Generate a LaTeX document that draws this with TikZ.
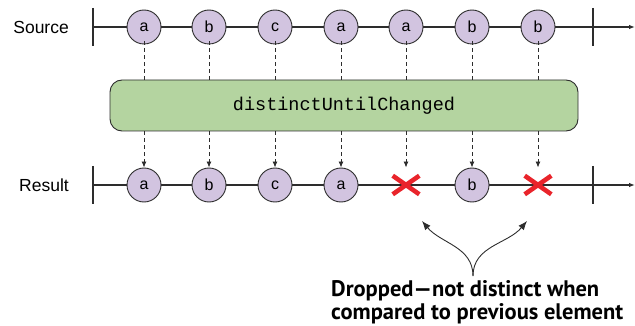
\documentclass[tikz,border=0pt]{standalone}
\usepackage{fontspec}
\setmainfont{Liberation Sans}
\newfontfamily\opfont{Liberation Mono}
\newfontfamily\notefont{PT Sans}
\usetikzlibrary{arrows.meta,positioning,calc,shapes.misc}
\definecolor{mrbfill}{RGB}{210,196,224}
\definecolor{opfill}{RGB}{180,212,160}
\definecolor{inkgray}{RGB}{45,45,45}
\definecolor{dropred}{RGB}{233,36,43}
\tikzset{
  mrb/.style={circle, draw=inkgray, fill=mrbfill, line width=0.9pt, minimum size=34pt, inner sep=0pt, font=\fontsize{16}{16}\selectfont},
  drp/.style={cross out, draw=dropred, line width=4.6pt, minimum width=22pt, minimum height=14pt, inner sep=0pt},
  opbox/.style={draw=inkgray, fill=opfill, line width=0.9pt, rounded corners=12pt, minimum width=468pt, minimum height=51pt, font=\opfont\fontsize{18.5}{18.5}\selectfont},
  tlab/.style={anchor=east, inner sep=0pt, font=\fontsize{17.5}{17.5}\selectfont},
  tline/.style={inkgray, line width=1.1pt, -{Latex[length=6pt,width=4.5pt]}},
  tick/.style={inkgray, line width=1.1pt},
  flow/.style={inkgray, line width=0.9pt, dash pattern=on 4pt off 3pt},
  flowar/.style={flow, -{Latex[length=6pt,width=5pt]}},
  crv/.style={inkgray, line width=0.9pt, -{Latex[length=9pt,width=7pt]}},
  note/.style={align=left, inner sep=0pt, font=\notefont\bfseries\fontsize{22.5}{23.5}\selectfont},
}
\begin{document}
\begin{tikzpicture}[x=1pt, y=-1pt]
 \useasboundingbox (0,0) rectangle (635,326);
 \node[tlab] (srclab) at (69,27) {Source};
 \node[tlab] (reslab) at (69,185) {Result};
 \foreach \row/\y in {src/27, res/185}{
   \coordinate (\row L) at (93,\y);
   \coordinate (\row R) at (593,\y);
   \coordinate (\row E) at (635,\y);
   \draw[tline] (\row L) -- (\row E);
   \draw[tick] ($(\row L)+(0,-19)$) -- ($(\row L)+(0,19)$);
   \draw[tick] ($(\row R)+(0,-19)$) -- ($(\row R)+(0,19)$);
 }
 \node[opbox] (op) at (344,105.5) {distinctUntilChanged};
 \foreach \i/\x/\lbl in {1/144/a, 2/209/b, 3/275/c, 4/341/a, 5/406/a, 6/472/b, 7/538/b}{
   \node[mrb] (s\i) at (\x,27) {\lbl};
   \draw[flow] ([yshift=3pt]s\i.south) -- (s\i |- op.north);
 }
 \foreach \i/\x/\lbl in {1/144/a, 2/209/b, 3/275/c, 4/341/a, 6/472/b}
   \node[mrb] (r\i) at (\x,185) {\lbl};
 \foreach \i/\x in {5/406, 7/538}
   \node[drp] (r\i) at (\x,185) {};
 \foreach \i in {1,...,7}
   \draw[flowar] (op.south -| r\i) -- (r\i |- r1.north);
 \coordinate (fork) at (473,276);
 \coordinate (tipL) at ($(r5)+(16,36)$);
 \coordinate (tipR) at ($(r7)+(-11,36)$);
 \draw[crv] (fork) to[out=90, in=-50] (tipL);
 \draw[crv] (fork) to[out=90, in=-130] (tipR);
 \node[note, anchor=north west] (drop) at (331,280) {Dropped—not distinct when\\compared to previous element};
\end{tikzpicture}
\end{document}
